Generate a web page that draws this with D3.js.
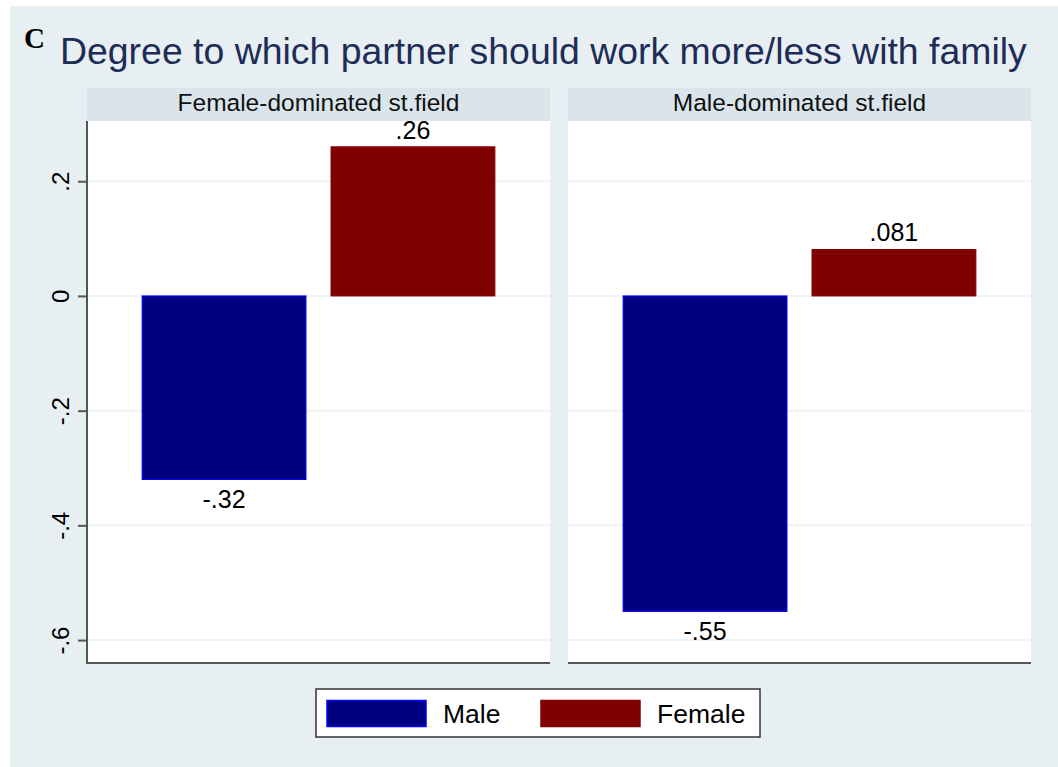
<!DOCTYPE html>
<html>
<head>
<meta charset="utf-8">
<script src="https://cdn.jsdelivr.net/npm/d3@7"></script>
<style>
  html, body { margin: 0; padding: 0; background: #ffffff; }
  svg { display: block; }
  text { font-family: "Liberation Sans", Arial, Helvetica, sans-serif; }
</style>
</head>
<body>
<svg id="chart" width="1058" height="767"></svg>
<script>
// Panels (study field), series (respondent sex) and their mean values
const panels = ["Female-dominated st.field", "Male-dominated st.field"];
const seriesNames = ["Male", "Female"];
const maleValues = [-0.32, -0.55];
const femaleValues = [0.26, 0.081];
const yTicks = [0.2, 0, -0.2, -0.4, -0.6];

const titleText = "Degree to which partner should work more/less with family";
const panelLetter = "C";

const colors = { Male: "#000080", Female: "#800000" };
const strokes = { Male: "#0000ff", Female: "#800000" };

// Stata-style number format: drop the leading zero (".26", "-.32")
const fmt = v => String(+v.toFixed(3)).replace(/^(-?)0\./, "$1.");

const svg = d3.select("#chart");
const W = 1058, H = 767;

// graph region background
svg.append("rect").attr("x", 10).attr("y", 6).attr("width", W - 10).attr("height", H - 6)
  .attr("fill", "#e8eff2");

// title and panel letter
svg.append("text").attr("x", 24).attr("y", 48)
  .style("font-family", "'Liberation Serif', 'Times New Roman', serif")
  .style("font-weight", "bold").style("font-size", "29px").attr("fill", "#000")
  .text(panelLetter);

const title = svg.append("text").attr("x", 60).attr("y", 64)
  .attr("fill", "#1e2c58").style("font-size", "36px").text(titleText);
const tw = title.node().getComputedTextLength();
title.style("font-size", (36 * 967 / tw).toFixed(2) + "px");

// scales
const plotTop = 121, plotBottom = 663;
const y = d3.scaleLinear().domain([-0.64, 0.305]).range([plotBottom, plotTop]);

const xPanel = d3.scaleBand().domain(panels).range([87, 1031]).paddingInner(0.0374).paddingOuter(0);
const xBar = d3.scaleBand().domain(seriesNames).range([0, xPanel.bandwidth()])
  .paddingInner(0.1326).paddingOuter(0.2918);

const data = panels.map((p, i) => ({
  panel: p,
  bars: [
    { series: "Male", value: maleValues[i] },
    { series: "Female", value: femaleValues[i] }
  ]
}));

const g = svg.selectAll("g.panel").data(data).join("g")
  .attr("class", "panel")
  .attr("transform", d => `translate(${xPanel(d.panel)},0)`);

// panel headers
g.append("rect").attr("x", 0).attr("y", 88).attr("width", xPanel.bandwidth()).attr("height", 33)
  .attr("fill", "#d9e5ea");
g.append("text").attr("x", xPanel.bandwidth() / 2).attr("y", 111)
  .attr("text-anchor", "middle").style("font-size", "24.5px").attr("fill", "#111")
  .text(d => d.panel);

// plot area
g.append("rect").attr("x", 0).attr("y", plotTop).attr("width", xPanel.bandwidth())
  .attr("height", plotBottom - plotTop).attr("fill", "#ffffff");

// gridlines
g.selectAll("line.grid").data(yTicks).join("line").attr("class", "grid")
  .attr("x1", 0).attr("x2", xPanel.bandwidth())
  .attr("y1", d => y(d)).attr("y2", d => y(d))
  .attr("stroke", "#eaf1f4").attr("stroke-width", 1.5);

// bars
g.selectAll("rect.bar").data(d => d.bars).join("rect").attr("class", "bar")
  .attr("x", d => xBar(d.series))
  .attr("width", xBar.bandwidth())
  .attr("y", d => y(Math.max(0, d.value)))
  .attr("height", d => Math.abs(y(d.value) - y(0)))
  .attr("fill", d => colors[d.series])
  .attr("stroke", d => strokes[d.series]).attr("stroke-width", 1);

// bar value labels
g.selectAll("text.val").data(d => d.bars).join("text").attr("class", "val")
  .attr("x", d => xBar(d.series) + xBar.bandwidth() / 2)
  .attr("y", d => d.value >= 0 ? y(d.value) - 8 : y(d.value) + 29)
  .attr("text-anchor", "middle").style("font-size", "25px").attr("fill", "#000")
  .text(d => fmt(d.value));

// bottom axis line of each panel
g.append("line").attr("x1", 0).attr("x2", xPanel.bandwidth())
  .attr("y1", plotBottom).attr("y2", plotBottom)
  .attr("stroke", "#555").attr("stroke-width", 2);

// left y axis with rotated tick labels
const yAxis = d3.axisLeft(y).tickValues(yTicks).tickSize(9).tickPadding(9).tickFormat(fmt);
const ax = svg.append("g").attr("transform", "translate(87,0)").call(yAxis);
ax.select(".domain").attr("d", `M0,${plotTop}V${plotBottom + 1}`).attr("stroke", "#555").attr("stroke-width", 2);
ax.selectAll(".tick line").attr("stroke", "#555").attr("stroke-width", 2);
ax.selectAll(".tick text")
  .attr("transform", "rotate(-90)")
  .attr("x", 0).attr("y", -18.5)
  .attr("dy", 0)
  .attr("text-anchor", "middle")
  .style("font-family", "'Liberation Sans', Arial, sans-serif")
  .style("font-size", "24px").attr("fill", "#000");

// legend
const lg = svg.append("g");
lg.append("rect").attr("x", 316).attr("y", 689).attr("width", 444).attr("height", 48)
  .attr("fill", "#fff").attr("stroke", "#333").attr("stroke-width", 1.5);
const legendX = { Male: 327, Female: 541 };
seriesNames.forEach(s => {
  lg.append("rect").attr("x", legendX[s]).attr("y", 700.5).attr("width", 99).attr("height", 26)
    .attr("fill", colors[s]).attr("stroke", strokes[s]).attr("stroke-width", 1.5);
  lg.append("text").attr("x", legendX[s] + 116).attr("y", 723)
    .style("font-size", "26.5px").attr("fill", "#000").text(s);
});
</script>
</body>
</html>
